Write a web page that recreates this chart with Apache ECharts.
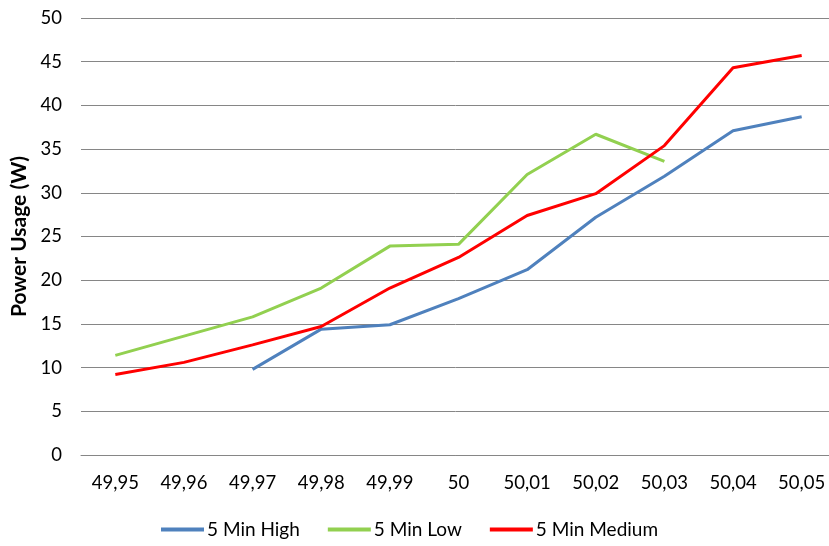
<!DOCTYPE html>
<html>
<head>
<meta charset="utf-8">
<script src="https://cdn.jsdelivr.net/npm/echarts@6/dist/echarts.min.js"></script>
<style>html,body{margin:0;padding:0;background:#fff}#c{width:829px;height:546px}</style>
</head>
<body>
<div id="c"></div>
<script>
var categories = ['49,95','49,96','49,97','49,98','49,99','50','50,01','50,02','50,03','50,04','50,05'];
var high = [null, null, 9.8, 14.4, 14.9, 17.9, 21.2, 27.2, 31.9, 37.1, 38.7];
var low = [11.4, 13.6, 15.8, 19.1, 23.9, 24.1, 32.1, 36.7, 33.6, null, null];
var medium = [9.2, 10.6, 12.6, 14.7, 19.1, 22.6, 27.4, 29.9, 35.4, 44.3, 45.7];
var yTicks = {min: 0, max: 50, interval: 5};

var font = 'Lato, "Open Sans", sans-serif';
var chart = echarts.init(document.getElementById('c'), null, {renderer: 'canvas'});
function s(name, data, color) {
  return {name: name, type: 'line', data: data, symbol: 'none', smooth: false,
    lineStyle: {width: 3, color: color}, itemStyle: {color: color}, emphasis: {disabled: true}};
}
chart.setOption({
  animation: false,
  grid: {left: 81, width: 755, top: 18, bottom: 91, containLabel: false, outerBoundsMode: 'none'},
  xAxis: {type: 'category', data: categories, boundaryGap: true,
    axisLine: {show: true, lineStyle: {color: '#868686', width: 1}},
    axisTick: {show: false},
    axisLabel: {color: '#000', fontFamily: font, fontSize: 18.5, margin: 19},
    splitLine: {show: false}},
  yAxis: {type: 'value', min: yTicks.min, max: yTicks.max, interval: yTicks.interval,
    name: 'Power Usage (W)', nameLocation: 'middle', nameGap: 50, nameRotate: 90,
    nameTextStyle: {color: '#000', fontFamily: font, fontSize: 21, fontWeight: 'bold'},
    axisLine: {show: false}, axisTick: {show: false},
    axisLabel: {color: '#000', fontFamily: font, fontSize: 18.5, margin: 19},
    splitLine: {show: true, lineStyle: {color: '#868686', width: 1}}},
  legend: {bottom: 2, left: 156, icon: 'rect', itemWidth: 43, itemHeight: 4, itemGap: 28,
    textStyle: {color: '#000', fontFamily: font, fontSize: 19, padding: [0,0,0,-2]},
    data: ['5 Min High', '5 Min Low', '5 Min Medium']},
  series: [s('5 Min High', high, '#4F81BD'), s('5 Min Low', low, '#92D050'), s('5 Min Medium', medium, '#FF0000')]
});
</script>
</body>
</html>
